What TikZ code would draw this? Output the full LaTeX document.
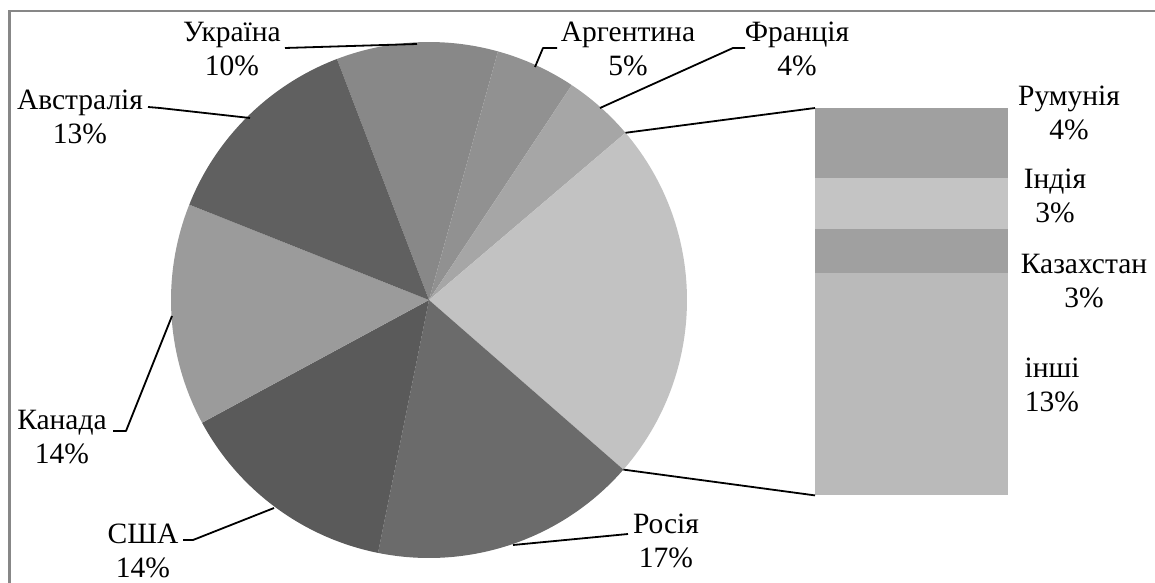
\documentclass[tikz,border=0pt]{standalone}
\usepackage{fontspec}
\setmainfont{Liberation Serif}
\definecolor{cAus}{HTML}{606060}
\definecolor{cUkr}{HTML}{888888}
\definecolor{cArg}{HTML}{919191}
\definecolor{cFra}{HTML}{A6A6A6}
\definecolor{cOth}{HTML}{C2C2C2}
\definecolor{cRus}{HTML}{6B6B6B}
\definecolor{cUsa}{HTML}{5A5A5A}
\definecolor{cCan}{HTML}{9B9B9B}
\definecolor{cRom}{HTML}{A0A0A0}
\definecolor{cInd}{HTML}{C4C4C4}
\definecolor{cKaz}{HTML}{A0A0A0}
\definecolor{cRest}{HTML}{BABABA}
\definecolor{frame}{HTML}{878787}
\tikzset{
  lbl/.style={font=\fontsize{29.5}{34}\selectfont, align=center, inner sep=0pt},
  leader/.style={draw=black, line width=1.8pt, line join=round},
  seg/.style={rectangle, inner sep=0pt, minimum width=193pt, anchor=north west, draw=none},
}
\begin{document}
\begin{tikzpicture}[x=1pt,y=1pt]
\useasboundingbox (0,0) rectangle (1155,582);
% frame (only top and left edges visible)
\draw[frame, line width=2.5pt] (1160,571) -- (9.3,571) -- (9.3,-5);
% pie
\coordinate (c) at (429,282);
\def\R{258}
\fill[cUkr] (c) -- ++(110.9:\R) arc[start angle=110.9, end angle=74.5, radius=\R] -- cycle;
\fill[cArg] (c) -- ++(74.5:\R) arc[start angle=74.5, end angle=56.4, radius=\R] -- cycle;
\fill[cFra] (c) -- ++(56.4:\R) arc[start angle=56.4, end angle=40.4, radius=\R] -- cycle;
\fill[cOth] (c) -- ++(40.4:\R) arc[start angle=40.4, end angle=-41.1, radius=\R] -- cycle;
\fill[cRus] (c) -- ++(-41.1:\R) arc[start angle=-41.1, end angle=-101.4, radius=\R] -- cycle;
\fill[cUsa] (c) -- ++(-101.4:\R) arc[start angle=-101.4, end angle=-151.6, radius=\R] -- cycle;
\fill[cCan] (c) -- ++(-151.6:\R) arc[start angle=-151.6, end angle=-201.7, radius=\R] -- cycle;
\fill[cAus] (c) -- ++(158.3:\R) arc[start angle=158.3, end angle=110.9, radius=\R] -- cycle;
\path (c) ++(40.4:\R) coordinate (pTop);
\path (c) ++(-41.1:\R) coordinate (pBot);
% bar of other
\node[seg, fill=cRom, minimum height=70pt] (rom) at (815,474) {};
\node[seg, fill=cInd, minimum height=51pt] (ind) at (815,404) {};
\node[seg, fill=cKaz, minimum height=44pt] (kaz) at (815,353) {};
\node[seg, fill=cRest, minimum height=222pt] (rest) at (815,309) {};
\draw[leader] (pTop) -- (rom.north west);
\draw[leader] (pBot) -- (rest.south west);
% labels
\node[lbl] (ukr) at (232,532.5) {Україна\\10\%};
\node[lbl] (aus) at (80,465.5) {Австралія\\13\%};
\node[lbl] (arg) at (628,533.5) {Аргентина\\5\%};
\node[lbl] (fra) at (797,533.5) {Франція\\4\%};
\node[lbl] (can) at (62,144.5) {Канада\\14\%};
\node[lbl] (usa) at (143,31.5) {США\\14\%};
\node[lbl] (rus) at (666,41.5) {Росія\\17\%};
\node[lbl] (romL) at (1069,469.5) {Румунія\\4\%};
\node[lbl] (indL) at (1055,386.5) {Індія\\3\%};
\node[lbl] (kazL) at (1084,300.5) {Казахстан\\3\%};
\node[lbl] (restL) at (1052,197.5) {інші\\13\%};
% leader lines
\coordinate (lUkrA) at (285,534); \coordinate (lUkrB) at (417,538);
\draw[leader] (lUkrA) -- (lUkrB);
\coordinate (lAusA) at (148,475); \coordinate (lAusK) at (160,474); \coordinate (lAusB) at (250,464);
\draw[leader] (lAusA) -- (lAusK) -- (lAusB);
\coordinate (lArgA) at (557,534); \coordinate (lArgK) at (543,534); \coordinate (lArgB) at (535,515);
\draw[leader] (lArgA) -- (lArgK) -- (lArgB);
\coordinate (lFraA) at (745,534); \coordinate (lFraK) at (733,534); \coordinate (lFraB) at (600,474);
\draw[leader] (lFraA) -- (lFraK) -- (lFraB);
\coordinate (lCanA) at (113,151); \coordinate (lCanK) at (126,151); \coordinate (lCanB) at (172,266);
\draw[leader] (lCanA) -- (lCanK) -- (lCanB);
\coordinate (lUsaA) at (183,42); \coordinate (lUsaK) at (193,42); \coordinate (lUsaB) at (274,74);
\draw[leader] (lUsaA) -- (lUsaK) -- (lUsaB);
\coordinate (lRusA) at (628,48); \coordinate (lRusB) at (513,37);
\draw[leader] (lRusA) -- (lRusB);
\end{tikzpicture}
\end{document}
